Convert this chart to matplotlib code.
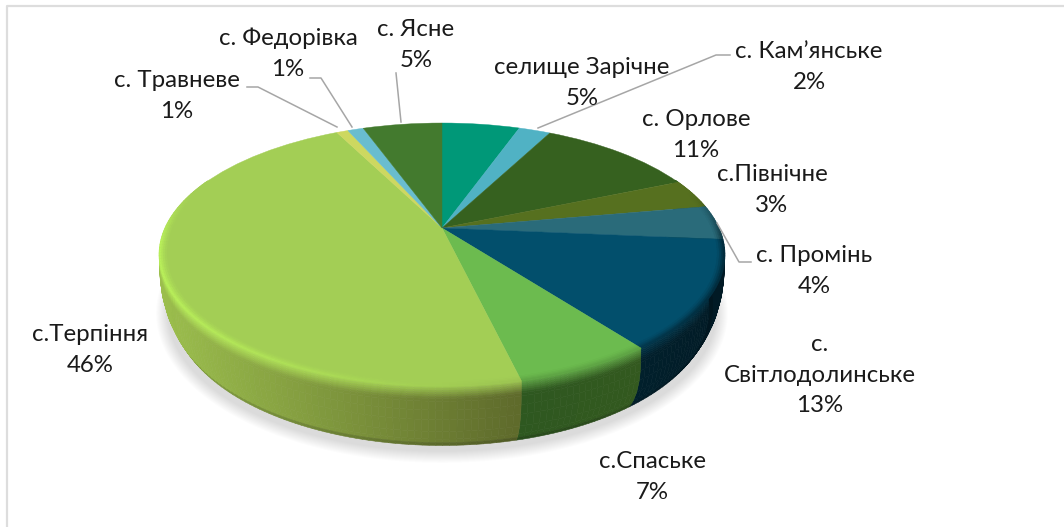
"""Pseudo-3D pie of settlements, perspective tilted like the Excel original."""
import matplotlib
matplotlib.use("Agg")
import matplotlib.pyplot as plt
import numpy as np
from matplotlib.collections import PolyCollection
from matplotlib.colors import to_rgb
from matplotlib.transforms import Transform

plt.rcParams["font.family"] = ["Lato", "Open Sans", "DejaVu Sans"]

NAMES = ["селище Зарічне", "с. Кам’янське", "с. Орлове", "с.Північне", "с. Промінь",
         "с.\nСвітлодолинське", "с.Спаське", "с.Терпіння", "с. Травневе",
         "с. Федорівка", "с. Ясне"]
VALUES = [5.4, 2.2, 11.0, 3.6, 4.2, 13.3, 6.6, 46.3, 0.8, 1.1, 5.5]
PCT_LABELS = ["5%", "2%", "11%", "3%", "4%", "13%", "7%", "46%", "1%", "1%", "5%"]

TOP = ["#009878", "#50B2C4", "#36611F", "#56701F", "#2A6B7A", "#024F6C",
       "#6CBB4F", "#A3CE55", "#CDD860", "#69BDCF", "#437A2E"]
WALL_L = ["#00483A", "#255560", "#1A3010", "#2A3810", "#0C2F38", "#01202C",
          "#2E5820", "#9CBF4D", "#9CBF4D", "#9CBF4D", "#9CBF4D"]
WALL_R = ["#00483A", "#255560", "#1A3010", "#2A3810", "#0A2530", "#011A25",
          "#33591F", "#5E6A2B", "#9CBF4D", "#9CBF4D", "#9CBF4D"]
RIM_L = ["#009878", "#50B2C4", "#36611F", "#3A4C14", "#16414B", "#02384D",
         "#5FA545", "#B8EE5A", "#CDD860", "#69BDCF", "#437A2E"]
RIM_R = ["#009878", "#50B2C4", "#36611F", "#3A4C14", "#123A45", "#012C3D",
         "#5FA545", "#9CC452", "#CDD860", "#69BDCF", "#437A2E"]

# label centres in pixels
LABEL_POS = [(582, 83), (809, 67), (696, 135), (772, 190), (814, 271), (820, 375),
             (652, 477), (90, 350), (177, 96), (288, 54), (416, 45)]
LEADERS = [[(730, 55), (716, 55), (538, 128)],
           [(717, 223), (739, 262), (751, 262)],
           [(247, 87), (258, 87), (337, 127)],
           [(310, 78), (321, 78), (352, 127)],
           [(396, 73), (401, 122)]]

CX, K, APEX_Y, A, C, DEPTH = 442.0, 276.7, 228.0, -80.2, 0.2015, 56.0


def project(u, v, dz=0.0):
    w = 1 + C * v
    return CX + K * u / w, (A * v + APEX_Y + dz) / w


class Perspective(Transform):
    input_dims = output_dims = 2
    is_separable = False
    has_inverse = False

    def transform_non_affine(self, values):
        x, y = project(values[:, 0], values[:, 1])
        return np.column_stack([x, y])


def mix(c1, c2, f):
    c1, c2 = np.array(to_rgb(c1)), np.array(to_rgb(c2))
    return tuple(c1 + (c2 - c1) * f)


def wall_radius(t):
    return 1 - 0.05 * t ** 3


fig = plt.figure(figsize=(10.64, 5.27), dpi=100)
ax = fig.add_axes([0, 0, 1, 1])

wedges, _ = ax.pie(VALUES, colors=TOP, startangle=90, counterclock=False,
                   wedgeprops=dict(linewidth=0.3))
ax.set_aspect("auto")
ax.set_xlim(0, 1064)
ax.set_ylim(527, 0)
ax.axis("off")

# frame of the chart area: only left and top show up
ax.plot([7, 7, 1064], [527, 6, 6], color="#DDDDDD", lw=1.6, zorder=0)

# soft shadow under the pie
th = np.radians(np.linspace(0, 360, 240))
for i in range(12, 0, -1):
    x, y = project(0.97 * np.cos(th), 0.97 * np.sin(th), DEPTH)
    xc, yc = x.mean(), y.mean()
    sx = 1 + i * 1.0 / 270
    sy = 1 + i * 1.0 / 150
    ax.fill(xc + (x - xc) * sx, yc + (y - yc) * sy + 1, color="#000000",
            alpha=0.012, lw=0, zorder=1)

# side wall, cut into little quads for the gradients
quads, quad_colors = [], []
rim_quads, rim_colors = [], []
T_STEPS = np.array([0, .03, .06, .09, .12, .15, .18, .22, .35, .5, .7, .85, .93, 1.0])
BEVEL = [(0.975, 0.982, 0.15), (0.982, 0.989, 0.4), (0.989, 0.995, 0.7), (0.995, 1.002, 1.0)]
for i, wedge in enumerate(wedges):
    ths = np.linspace(wedge.theta1, wedge.theta2, int((wedge.theta2 - wedge.theta1) / 1.2) + 2)
    rad = np.radians(ths)
    keep = np.sin(rad) < 0.42
    if keep.sum() < 2:
        continue
    xs = project(np.cos(rad[keep]), np.sin(rad[keep]))[0]
    span = max(xs.max() - xs.min(), 1)
    rad = rad[keep]
    for a0, a1 in zip(rad[:-1], rad[1:]):
        xm = project(np.cos((a0 + a1) / 2), np.sin((a0 + a1) / 2))[0]
        f = (xm - xs.min()) / span
        wall = mix(WALL_L[i], WALL_R[i], f)
        rim = mix(RIM_L[i], RIM_R[i], f)
        fade = np.clip((0.3 - np.sin((a0 + a1) / 2)) / 0.4, 0, 1)
        # wall bands from the rim downwards
        for t0, t1 in zip(T_STEPS[:-1], T_STEPS[1:]):
            r0, r1 = wall_radius(t0), wall_radius(t1)
            p = [project(r0 * np.cos(a0), r0 * np.sin(a0), DEPTH * t0),
                 project(r0 * np.cos(a1), r0 * np.sin(a1), DEPTH * t0),
                 project(r1 * np.cos(a1), r1 * np.sin(a1), DEPTH * t1),
                 project(r1 * np.cos(a0), r1 * np.sin(a0), DEPTH * t1)]
            quads.append(p)
            tm = (t0 + t1) / 2
            col = mix(rim, wall, min(tm / 0.18, 1))
            if tm > 0.93:
                col = mix(col, "#000000", 0.15)
            quad_colors.append(col)
        # bevel on the top face, blending towards the rim colour
        for r0, r1, g in BEVEL:
            p = [project(r0 * np.cos(a0), r0 * np.sin(a0)),
                 project(r0 * np.cos(a1), r0 * np.sin(a1)),
                 project(r1 * np.cos(a1), r1 * np.sin(a1)),
                 project(r1 * np.cos(a0), r1 * np.sin(a0))]
            rim_quads.append(p)
            rim_colors.append(mix(TOP[i], rim, g * fade))

ax.add_collection(PolyCollection(quads, facecolors=quad_colors, edgecolors=quad_colors,
                                 linewidths=0.4, zorder=2))

# top face, pie wedges pushed through the perspective
persp = Perspective() + ax.transData
for wedge, col in zip(wedges, TOP):
    wedge.set_transform(persp)
    wedge.set_edgecolor(col)
    wedge.set_zorder(3)
    wedge.set_clip_on(False)

ax.add_collection(PolyCollection(rim_quads, facecolors=rim_colors, edgecolors=rim_colors,
                                 linewidths=0.3, zorder=4))

for pts in LEADERS:
    xs, ys = zip(*pts)
    ax.plot(xs, ys, color="#A6A6A6", lw=1.1, zorder=5)

for name, pct, (x, y) in zip(NAMES, PCT_LABELS, LABEL_POS):
    ax.text(x, y, f"{name}\n{pct}", ha="center", va="center", fontsize=17.3,
            color="#1A1A1A", linespacing=1.58, zorder=6)

fig.savefig("out.png", dpi=100)
